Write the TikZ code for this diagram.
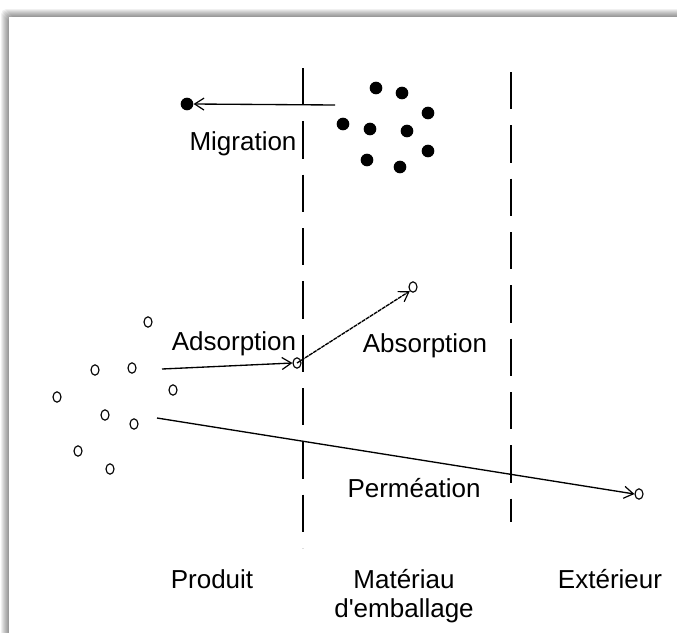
\documentclass[tikz,border=0pt]{standalone}
\usepackage{fontspec}
\setmainfont{Liberation Sans}
\usetikzlibrary{arrows.meta,shapes.geometric}
\begin{document}
\begin{tikzpicture}[x=0.75pt,y=-0.75pt,
  lbl/.style={font=\fontsize{19.5}{22}\selectfont, inner sep=0pt, anchor=base},
  dot/.style={circle, fill=black, minimum size=9.5pt, inner sep=0pt},
  odot/.style={ellipse, draw=black, line width=0.85pt, minimum width=6pt, minimum height=7.8pt, inner sep=0pt},
  arr/.style={line width=1pt, -{Straight Barb[length=7pt,width=9pt,line width=0.9pt]}},
  sep/.style={line width=1.2pt, dash pattern=on 28pt off 12pt}
]
\useasboundingbox (0,0) rectangle (677,632);
\fill[white] (0,0) rectangle (677,632);
% shadow
\foreach \d in {1,...,8}{
  \fill[black, opacity=0.06, rounded corners=4pt] (9-\d,17-\d) rectangle (700,660);
}
\fill[white] (9,17) rectangle (700,660);
% separators
\coordinate (s1t) at (303,68); \coordinate (s1b) at (303,548);
\coordinate (s2t) at (511,72); \coordinate (s2b) at (511,522);
\draw[sep] (s1t) -- (s1b);
\draw[sep] (s2t) -- (s2b);
% migration dots
\node[dot] (m0) at (187,104) {};
\node[dot] (m1) at (376,88) {};
\node[dot] (m2) at (402,93) {};
\node[dot] (m3) at (428,113) {};
\node[dot] (m4) at (343,124) {};
\node[dot] (m5) at (370,129) {};
\node[dot] (m6) at (407,131) {};
\node[dot] (m7) at (428,151) {};
\node[dot] (m8) at (367,160) {};
\node[dot] (m9) at (400,167) {};
\coordinate (mstart) at (335,105);
\draw[arr] (mstart) -- (m0.east);
\node[lbl] (lmig) at (243,150) {Migration};
% open circles (product)
\node[odot] (p1) at (148,322) {};
\node[odot] (p2) at (95,370) {};
\node[odot] (p3) at (132,368) {};
\node[odot] (p4) at (57,397) {};
\node[odot] (p5) at (173,390) {};
\node[odot] (p6) at (105,415) {};
\node[odot] (p7) at (134,424) {};
\node[odot] (p8) at (78,451) {};
\node[odot] (p9) at (110,469) {};
% adsorption / absorption / permeation
\node[odot] (ad) at (297,363) {};
\node[odot] (ab) at (413,287) {};
\node[odot] (pe) at (639,494) {};
\coordinate (adst) at (162,369);
\coordinate (pest) at (157,418);
\draw[arr] (adst) -- (ad.west);
\draw[arr, dash pattern=on 3pt off 0.6pt] (ad.center) -- (ab.south west);
\draw[arr] (pest) -- (pe.west);
\node[lbl] (lads) at (234,350) {Adsorption};
\node[lbl] (labs) at (425,352) {Absorption};
\node[lbl] (lper) at (414,497) {Perméation};
% bottom labels
\node[lbl] (lprod) at (212,588) {Produit};
\node[lbl] (lmat) at (404,588) {Matériau};
\node[lbl] (lemb) at (404,617) {d\textquotesingle emballage};
\node[lbl] (lext) at (610,588) {Extérieur};
\end{tikzpicture}
\end{document}
